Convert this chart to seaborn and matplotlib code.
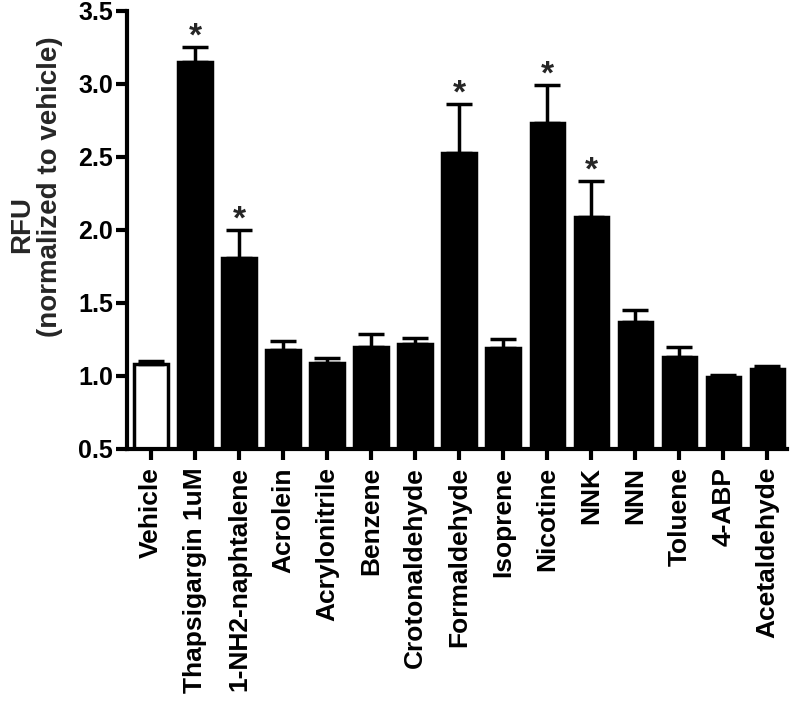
import matplotlib
matplotlib.use("Agg")
import matplotlib.pyplot as plt
import seaborn as sns
import pandas as pd
import numpy as np

categories = ["Vehicle", "Thapsigargin 1uM", "1-NH2-naphtalene", "Acrolein",
              "Acrylonitrile", "Benzene", "Crotonaldehyde", "Formaldehyde",
              "Isoprene", "Nicotine", "NNK", "NNN", "Toluene", "4-ABP",
              "Acetaldehyde"]
means = [1.08, 3.15, 1.81, 1.18, 1.09, 1.20, 1.22, 2.53, 1.19, 2.73, 2.09,
         1.37, 1.13, 0.99, 1.05]
sem = [0.02, 0.10, 0.19, 0.06, 0.035, 0.09, 0.04, 0.335, 0.06, 0.26, 0.245,
       0.08, 0.07, 0.02, 0.02]
significant = [False, True, True, False, False, False, False, True, False,
               True, True, False, False, False, False]
fill_colors = ["white"] + ["black"] * 14

sns.set_style("ticks")
plt.rcParams['font.family'] = ['Liberation Sans', 'DejaVu Sans']
plt.rcParams['font.weight'] = 'bold'

df = pd.DataFrame({"cat": categories, "val": means})

W, H = 792, 702
fig = plt.figure(figsize=(W / 100, H / 100), dpi=100)
ax = fig.add_axes([0.160, 0.3604, 0.834, 0.624])

sns.barplot(data=df, x="cat", y="val", hue="cat", palette=fill_colors,
            order=categories, hue_order=categories, legend=False,
            width=0.76, edgecolor="black", linewidth=2.5, errorbar=None,
            ax=ax)

x = np.arange(len(categories))
ax.errorbar(x, means, yerr=[np.zeros(len(sem)), sem], fmt="none",
            ecolor="black", elinewidth=2.5, capsize=9.5, capthick=2.5, zorder=1)

for xi, m, s, sig in zip(x, means, sem, significant):
    if sig:
        ax.text(xi, m + s + 0.01, "*", ha="center", va="baseline",
                fontsize=24, fontweight="bold")

ax.set_ylim(0.5, 3.5)
ax.set_xlim(-0.55, 14.45)
ax.set_yticks([0.5, 1.0, 1.5, 2.0, 2.5, 3.0, 3.5])
ax.set_yticklabels(["0.5", "1.0", "1.5", "2.0", "2.5", "3.0", "3.5"])
ax.set_xticks(x)
ax.set_xticklabels(categories, rotation=90)
ax.tick_params(axis="both", width=3, length=8, colors="black")
ax.tick_params(axis="x", labelsize=19, pad=5)
ax.tick_params(axis="y", labelsize=18, pad=2)
for lbl in ax.get_xticklabels() + ax.get_yticklabels():
    lbl.set_fontweight("bold")
ax.set_xlabel("")
ax.set_ylabel("")
fig.text(22 / W, 1 - 224 / H, "RFU", rotation=90, ha="center", va="center",
         fontsize=20, fontweight="bold")
fig.text(50 / W, 1 - 187 / H, "(normalized to vehicle)", rotation=90,
         ha="center", va="center", fontsize=20, fontweight="bold")
for side in ["top", "right"]:
    ax.spines[side].set_visible(False)
for side in ["left", "bottom"]:
    ax.spines[side].set_linewidth(3)
    ax.spines[side].set_color("black")

fig.savefig("out.png", dpi=100)
